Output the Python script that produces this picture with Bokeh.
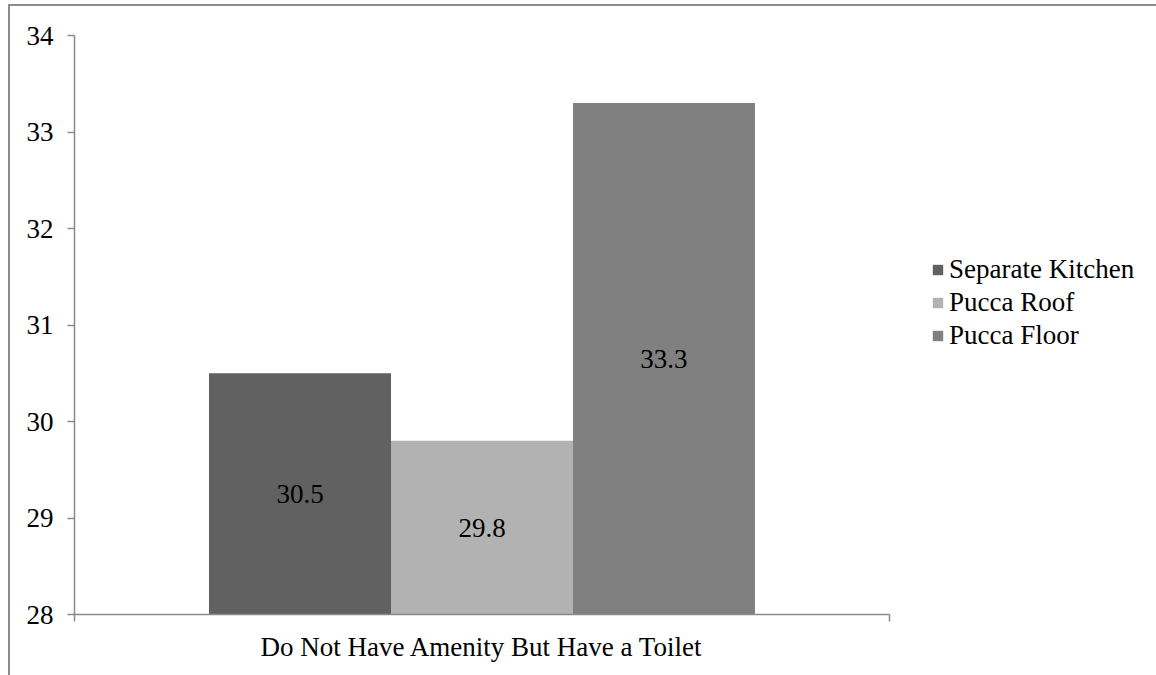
from bokeh.plotting import figure
from bokeh.models import (ColumnDataSource, Range1d, FixedTicker,
                          Legend, LegendItem, LabelSet)
from bokeh.transform import dodge
from bokeh.layouts import column
from bokeh.embed import file_html
from bokeh.resources import INLINE

category = ["Do Not Have Amenity But Have a Toilet"]
series = ["Separate Kitchen", "Pucca Roof", "Pucca Floor"]
values = [30.5, 29.8, 33.3]
colors = ["#616161", "#b2b2b2", "#808080"]
y_ticks = [28, 29, 30, 31, 32, 33, 34]
y_min, y_max = 28, 34

FONT = "Times New Roman"
FS = "27px"
AXIS_COLOR = "#8a8a8a"
bar_w = 0.2233
offsets = [-bar_w, 0.0, bar_w]

# category i occupies [i, i+1] on a numeric axis; its centre is i + 0.5
cat_pos = [i + 0.5 for i in range(len(category))]
cat_edges = [float(i) for i in range(len(category) + 1)]

p = figure(x_range=Range1d(0, len(category)), y_range=Range1d(y_min, y_max),
           frame_width=815, frame_height=579,
           min_border_left=64, min_border_top=29, min_border_bottom=61,
           min_border_right=10,
           output_backend="svg", toolbar_location=None,
           background_fill_color="white", border_fill_color="white")
p.outline_line_color = None
p.grid.visible = False

items = []
for name, v, c, off in zip(series, values, colors, offsets):
    src = ColumnDataSource(dict(x=cat_pos, top=[v], mid=[(y_min + v) / 2],
                                lab=[f"{v:.1f}"]))
    r = p.vbar(x=dodge("x", off), top="top", bottom=y_min,
               width=bar_w, source=src, fill_color=c, line_color=None)
    lbl = LabelSet(x=dodge("x", off), y="mid", text="lab",
                   source=src, text_align="center", text_baseline="middle",
                   text_font=FONT, text_font_size=FS, text_color="black")
    p.add_layout(lbl)
    items.append(LegendItem(label=name, renderers=[r]))

# y axis
ya = p.yaxis[0]
ya.ticker = FixedTicker(ticks=y_ticks)
ya.axis_line_color = AXIS_COLOR
ya.axis_line_width = 1.5
ya.major_tick_line_color = AXIS_COLOR
ya.major_tick_line_width = 1.5
ya.major_tick_in = 0
ya.major_tick_out = 7
ya.minor_tick_line_color = None
ya.major_label_text_font = FONT
ya.major_label_text_font_size = FS
ya.major_label_text_color = "black"
ya.major_label_standoff = 14

# x axis: category label centred, ticks at category edges
xa = p.xaxis[0]
xa.ticker = FixedTicker(ticks=cat_pos, minor_ticks=cat_edges)
xa.major_label_overrides = {pos: lab for pos, lab in zip(cat_pos, category)}
xa.axis_line_color = AXIS_COLOR
xa.axis_line_width = 1.5
xa.major_tick_line_color = None
xa.minor_tick_line_color = AXIS_COLOR
xa.minor_tick_line_width = 1.5
xa.minor_tick_in = 0
xa.minor_tick_out = 7
xa.major_label_text_font = FONT
xa.major_label_text_font_size = FS
xa.major_label_text_color = "black"
xa.major_label_standoff = 10

legend = Legend(items=items, location=(42, 263),
                label_text_font=FONT, label_text_font_size=FS,
                label_text_color="black", glyph_width=13, glyph_height=13,
                label_height=26, label_standoff=5, spacing=2,
                padding=0, margin=0, border_line_color=None,
                background_fill_alpha=0)
p.add_layout(legend, "right")

root = column(p, styles={"border-left": "2px solid #8c8c8c",
                         "border-top": "2px solid #8c8c8c",
                         "margin-left": "8px", "margin-top": "4px"})

open("out.html", "w").write(file_html(root, INLINE))
